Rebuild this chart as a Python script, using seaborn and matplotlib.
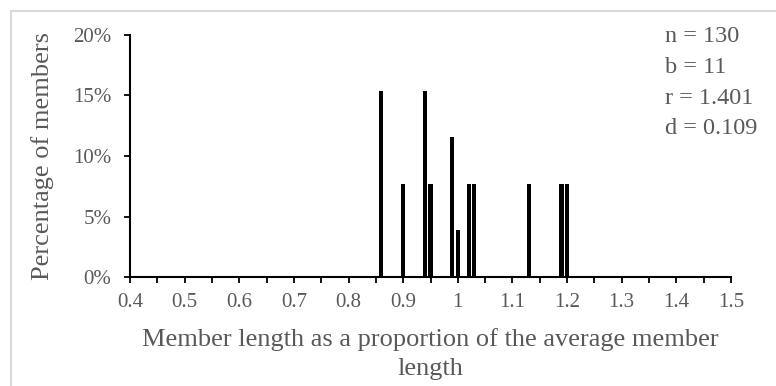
import numpy as np
import pandas as pd
import matplotlib
matplotlib.use("Agg")
import matplotlib.pyplot as plt
import seaborn as sns
from matplotlib.ticker import MultipleLocator, FuncFormatter
from matplotlib.patches import Rectangle

# Data
lengths = [0.86, 0.90, 0.94, 0.95, 0.99, 1.00, 1.02, 1.03, 1.13, 1.19, 1.20]
percent = [15.38, 7.69, 15.38, 7.69, 11.54, 3.85, 7.69, 7.69, 7.69, 7.69, 7.69]
stats_text = ["n = 130", "b = 11", "r = 1.401", "d = 0.109"]

df = pd.DataFrame({"length": lengths, "percent": percent})

sns.set_style("white")
plt.rcParams["font.family"] = ["Liberation Serif", "DejaVu Serif"]

grey = "#595959"
fig = plt.figure(figsize=(7.76, 3.86), dpi=100)
ax = fig.add_axes([130 / 776, 1 - 277 / 386, (731 - 130) / 776, (277 - 35) / 386])

sns.barplot(data=df, x="length", y="percent", native_scale=True, width=0.78,
            color="black", saturation=1, edgecolor="none", linewidth=0, ax=ax)

ax.set_xlim(0.4, 1.5)
ax.set_ylim(0, 20)
ax.xaxis.set_major_locator(MultipleLocator(0.1))
ax.xaxis.set_minor_locator(MultipleLocator(0.05))
ax.yaxis.set_major_locator(MultipleLocator(5))
ax.xaxis.set_major_formatter(FuncFormatter(lambda v, p: "1" if abs(v - 1) < 1e-9 else f"{v:.1f}"))
ax.yaxis.set_major_formatter(FuncFormatter(lambda v, p: f"{v:.0f}%"))

for s in ["top", "right"]:
    ax.spines[s].set_visible(False)
for s in ["left", "bottom"]:
    ax.spines[s].set_color("black")
    ax.spines[s].set_linewidth(1.5)

ax.tick_params(axis="both", which="both", direction="out", length=4.3, width=1.3,
               color="black", labelcolor=grey, labelsize=15, bottom=True, left=True)
ax.tick_params(axis="x", pad=7)
ax.tick_params(axis="y", pad=9)

ax.set_xlabel("Member length as a proportion of the average member\nlength",
              fontsize=19, color=grey, labelpad=12, linespacing=1.4)
ax.set_ylabel("Percentage of members", fontsize=19, color=grey, labelpad=14)

y0 = 1 - 37 / 386
for i, t in enumerate(stats_text):
    fig.text(665 / 776, y0 - i * 30.5 / 386, t, fontsize=17.5, color=grey,
             ha="left", va="center")

# light border around the chart area
fig.patches.append(Rectangle((11 / 776, -0.1), 1.2, 1.1 - 11 / 386,
                             transform=fig.transFigure, fill=False,
                             edgecolor="#d9d9d9", linewidth=1.5))

fig.savefig("out.png", dpi=100)
